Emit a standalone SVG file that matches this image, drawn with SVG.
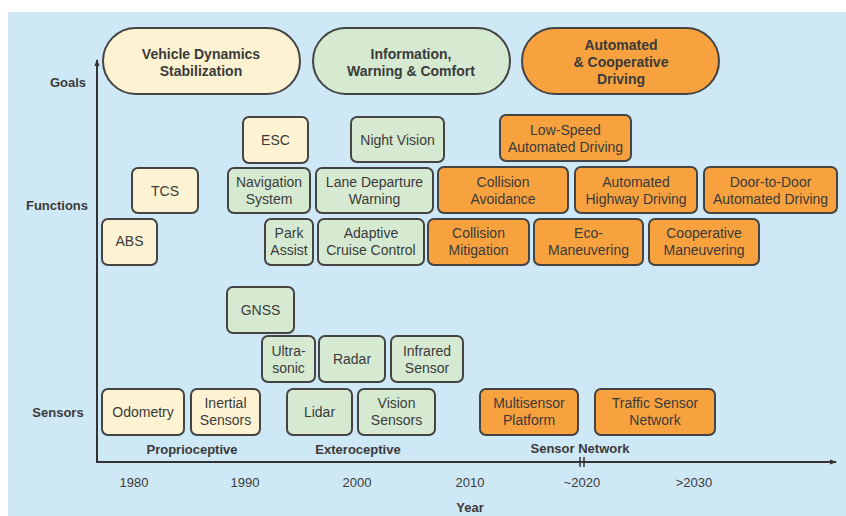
<svg xmlns="http://www.w3.org/2000/svg" width="846" height="516" viewBox="0 0 846 516">
<defs>
<marker id="ah" markerWidth="8" markerHeight="8" refX="6" refY="4" orient="auto" markerUnits="userSpaceOnUse">
<path d="M0,1.5 L7,4 L0,6.5 Z" fill="#333"/>
</marker>
<style>
text{font-family:"Liberation Sans",Arial,sans-serif;fill:#3a3a3a;font-size:14px;text-anchor:middle;dominant-baseline:central}
.b{font-weight:bold}
.s{font-size:13px}
.bx{stroke:#444;stroke-width:2}
.cr{fill:#fdf3d2}
.gr{fill:#d6ead2}
.or{fill:#f7a23e}
.ax{stroke:#333;stroke-width:2;fill:none}
</style>
</defs>
<rect x="0" y="0" width="846" height="516" fill="#fff"/>
<rect x="8" y="12" width="838" height="504" fill="#cfe8f5"/>

<g id="axes">
<line class="ax" x1="97" y1="462" x2="97" y2="60" marker-end="url(#ah)"/>
<line class="ax" x1="96" y1="462" x2="836" y2="462" marker-end="url(#ah)"/>
<path d="M580,457 L580,467 M584,457 L584,467" stroke="#333" stroke-width="1.5"/>
</g>

<g id="labels">
<text x="68" y="82" class="b s">Goals</text>
<text x="57" y="205" class="b s">Functions</text>
<text x="58" y="412" class="b s">Sensors</text>
<text x="192" y="449" class="b s">Proprioceptive</text>
<text x="358" y="449" class="b s">Exteroceptive</text>
<text x="580" y="448" class="b s">Sensor Network</text>
<text x="134" y="482" class="s">1980</text>
<text x="245" y="482" class="s">1990</text>
<text x="357" y="482" class="s">2000</text>
<text x="470" y="482" class="s">2010</text>
<text x="582" y="482" class="s">~2020</text>
<text x="694" y="482" class="s">&gt;2030</text>
<text x="470" y="507" class="b s">Year</text>
</g>

<g id="goal-vds">
<rect class="bx cr" x="103" y="28" width="197" height="66" rx="33"/>
<text x="201" y="54" class="b">Vehicle Dynamics</text>
<text x="201" y="71" class="b">Stabilization</text>
</g>
<g id="goal-iwc">
<rect class="bx gr" x="313" y="28" width="197" height="66" rx="33"/>
<text x="411" y="54" class="b">Information,</text>
<text x="411" y="71" class="b">Warning &amp; Comfort</text>
</g>
<g id="goal-acd">
<rect class="bx or" x="522" y="28" width="197" height="66" rx="33"/>
<text x="621" y="45" class="b">Automated</text>
<text x="621" y="62" class="b">&amp; Cooperative</text>
<text x="621" y="79" class="b">Driving</text>
</g>

<g id="f-esc"><rect class="bx cr" x="243" y="117" width="65" height="46" rx="6"/><text x="275.5" y="140">ESC</text></g>
<g id="f-nv"><rect class="bx gr" x="351" y="117" width="93" height="45" rx="6"/><text x="397.5" y="140">Night Vision</text></g>
<g id="f-lsad"><rect class="bx or" x="500" y="115" width="131" height="46" rx="6"/><text x="565.5" y="130">Low-Speed</text><text x="565.5" y="147">Automated Driving</text></g>

<g id="f-tcs"><rect class="bx cr" x="132" y="168" width="66" height="45" rx="6"/><text x="165" y="190.5">TCS</text></g>
<g id="f-nav"><rect class="bx gr" x="228" y="168" width="82" height="45" rx="6"/><text x="269" y="182">Navigation</text><text x="269" y="199">System</text></g>
<g id="f-ldw"><rect class="bx gr" x="316" y="168" width="117" height="45" rx="6"/><text x="374.5" y="182">Lane Departure</text><text x="374.5" y="199">Warning</text></g>
<g id="f-ca"><rect class="bx or" x="438" y="167" width="130" height="46" rx="6"/><text x="503" y="182">Collision</text><text x="503" y="199">Avoidance</text></g>
<g id="f-ahd"><rect class="bx or" x="575" y="167" width="122" height="46" rx="6"/><text x="636" y="182">Automated</text><text x="636" y="199">Highway Driving</text></g>
<g id="f-d2d"><rect class="bx or" x="704" y="167" width="133" height="46" rx="6"/><text x="770.5" y="182">Door-to-Door</text><text x="770.5" y="199">Automated Driving</text></g>

<g id="f-abs"><rect class="bx cr" x="102" y="219" width="55" height="46" rx="6"/><text x="129.5" y="241">ABS</text></g>
<g id="f-pa"><rect class="bx gr" x="265" y="219" width="48" height="46" rx="6"/><text x="289" y="233">Park</text><text x="289" y="250">Assist</text></g>
<g id="f-acc"><rect class="bx gr" x="318" y="219" width="106" height="46" rx="6"/><text x="371" y="233">Adaptive</text><text x="371" y="250">Cruise Control</text></g>
<g id="f-cm"><rect class="bx or" x="428" y="219" width="101" height="46" rx="6"/><text x="478.5" y="233">Collision</text><text x="478.5" y="250">Mitigation</text></g>
<g id="f-eco"><rect class="bx or" x="534" y="219" width="109" height="46" rx="6"/><text x="588.5" y="233">Eco-</text><text x="588.5" y="250">Maneuvering</text></g>
<g id="f-coop"><rect class="bx or" x="649" y="219" width="110" height="46" rx="6"/><text x="704" y="233">Cooperative</text><text x="704" y="250">Maneuvering</text></g>

<g id="s-gnss"><rect class="bx gr" x="227" y="287" width="67" height="46" rx="6"/><text x="260.5" y="310">GNSS</text></g>
<g id="s-us"><rect class="bx gr" x="262" y="336" width="53" height="46" rx="6"/><text x="288.5" y="351">Ultra-</text><text x="288.5" y="368">sonic</text></g>
<g id="s-radar"><rect class="bx gr" x="319" y="336" width="66" height="46" rx="6"/><text x="352" y="359">Radar</text></g>
<g id="s-ir"><rect class="bx gr" x="391" y="336" width="72" height="46" rx="6"/><text x="427" y="351">Infrared</text><text x="427" y="368">Sensor</text></g>
<g id="s-odo"><rect class="bx cr" x="102" y="389" width="82" height="46" rx="6"/><text x="143" y="412">Odometry</text></g>
<g id="s-ins"><rect class="bx cr" x="191" y="389" width="69" height="46" rx="6"/><text x="225.5" y="403">Inertial</text><text x="225.5" y="420">Sensors</text></g>
<g id="s-lidar"><rect class="bx gr" x="287" y="389" width="65" height="46" rx="6"/><text x="319.5" y="412">Lidar</text></g>
<g id="s-vis"><rect class="bx gr" x="358" y="389" width="77" height="46" rx="6"/><text x="396.5" y="403">Vision</text><text x="396.5" y="420">Sensors</text></g>
<g id="s-msp"><rect class="bx or" x="480" y="389" width="98" height="46" rx="6"/><text x="529" y="403">Multisensor</text><text x="529" y="420">Platform</text></g>
<g id="s-tsn"><rect class="bx or" x="595" y="389" width="120" height="46" rx="6"/><text x="655" y="403">Traffic Sensor</text><text x="655" y="420">Network</text></g>
</svg>
